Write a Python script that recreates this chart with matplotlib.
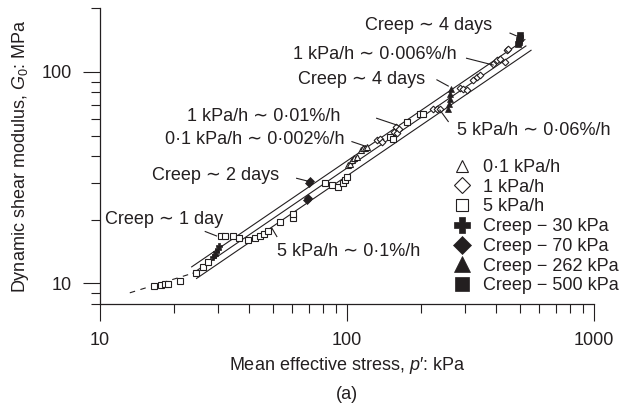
import matplotlib
matplotlib.use('Agg')
import matplotlib.pyplot as plt
from matplotlib.ticker import LogLocator, FuncFormatter, NullFormatter

plt.rcParams['font.family'] = ['Liberation Sans', 'DejaVu Sans']
plt.rcParams['mathtext.fontset'] = 'custom'
plt.rcParams['mathtext.rm'] = 'Liberation Sans'
plt.rcParams['mathtext.it'] = 'Liberation Sans:italic'

ink = '#231f20'

# ==================== data ====================
# 0.1 kPa/h (open triangles)
p_01 = [101, 103, 105, 107, 110, 114, 116, 118, 121]
g_01 = [36.2, 36.9, 38.3, 39.0, 39.7, 42.7, 43.5, 43.8, 44.2]

# 1 kPa/h (open diamonds)
p_1 = [132, 136, 138, 155, 158, 160, 162, 223, 231, 238, 287, 295, 306,
       324, 336, 346, 390, 405, 416, 436, 445, 450]
g_1 = [47.6, 48.0, 46.6, 52.0, 55.0, 51.3, 54.0, 67.1, 67.1, 67.1, 84.4,
       83.5, 82.6, 92.1, 94.7, 96.5, 109.6, 113.6, 115.7, 111.5, 126.6, 129.0]

# 5 kPa/h (open squares)
p_5 = [16.5, 17.7, 18.3, 18.8, 21.1, 24.5, 26.1, 27.4, 30.9, 32.1, 34.6,
       36.5, 39.7, 42.4, 44.4, 46.1, 47.9, 53.6, 60.4, 60.4, 81.5, 87.0,
       91.9, 96.3, 98.1, 100, 149, 154, 175, 197, 203]
g_5 = [9.74, 9.82, 9.89, 9.96, 10.29, 11.15, 11.9, 12.65, 16.73, 16.73,
       16.73, 16.46, 16.02, 16.46, 16.73, 17.1, 17.77, 19.42, 20.42, 21.26,
       29.8, 29.1, 28.6, 29.8, 30.8, 31.8, 49.3, 48.4, 58.0, 63.6, 63.6]

# creep stages (filled symbols)
p_c30 = [28.7, 29.2, 29.6, 30.0, 30.2]
g_c30 = [13.3, 13.7, 14.1, 14.5, 15.0]
p_c70 = [68.9, 69.4, 70.2, 70.6]
g_c70 = [24.8, 25.3, 29.8, 30.4]
p_c262 = [256, 259, 261, 262, 263]
g_c262 = [66.5, 70.9, 74.5, 78.5, 83.5]
p_c500 = [492, 496, 498, 500, 502]
g_c500 = [135, 138, 141, 145, 149]

# trend lines (end points)
p_upper = [23.5, 525]
g_upper = [11.98, 142.2]
p_middle = [23.8, 530]
g_middle = [11.19, 132.7]
p_lower = [24.6, 556]
g_lower = [10.56, 126.6]
p_dash = [13.2, 23.8]
g_dash = [9.03, 11.19]

# annotations: text, text position (axes fraction), leader line (axes fraction)
notes = [
    ('Creep ∼ 4 days', (0.536, 0.943), (0.830, 0.916), (0.848, 0.903)),
    ('1 kPa/h ∼ 0·006%/h', (0.391, 0.842), (0.742, 0.831), (0.796, 0.808)),
    ('Creep ∼ 4 days', (0.401, 0.760), (0.682, 0.758), (0.705, 0.737)),
    ('1 kPa/h ∼ 0·01%/h', (0.176, 0.633), (0.560, 0.628), (0.601, 0.605)),
    ('0·1 kPa/h ∼ 0·002%/h', (0.132, 0.555), (0.510, 0.549), (0.540, 0.532)),
    ('Creep ∼ 2 days', (0.105, 0.433), (0.398, 0.425), (0.424, 0.414)),
    ('Creep ∼ 1 day', (0.010, 0.284), (0.213, 0.245), (0.236, 0.230)),
    ('5 kPa/h ∼ 0·06%/h', (0.722, 0.588), (0.705, 0.617), (0.688, 0.656)),
    ('5 kPa/h ∼ 0·1%/h', (0.358, 0.177), (0.358, 0.228), (0.348, 0.256)),
]

fs = 13

fig = plt.figure(figsize=(6.37, 4.08), dpi=100)
ax = fig.add_axes([0.157, 0.255, 0.7755, 0.7247])

for px, gy in [(p_upper, g_upper), (p_middle, g_middle), (p_lower, g_lower)]:
    ax.plot(px, gy, color=ink, lw=0.8)
ax.plot(p_dash, g_dash, color=ink, lw=0.8, dashes=(5, 5))

open_kw = dict(ls='none', mfc='white', mec=ink, mew=0.8, ms=3.8)
filled_kw = dict(ls='none', mfc=ink, mec=ink, mew=0.5)
ax.plot(p_01, g_01, marker='^', label='0·1 kPa/h', **open_kw)
ax.plot(p_1, g_1, marker='D', label='1 kPa/h', **dict(open_kw, ms=3.4))
ax.plot(p_5, g_5, marker='s', label='5 kPa/h', **open_kw)
ax.plot(p_c30, g_c30, marker='P', ms=5, label='Creep − 30 kPa', **filled_kw)
ax.plot(p_c70, g_c70, marker='D', ms=4.2, label='Creep − 70 kPa', **filled_kw)
ax.plot(p_c262, g_c262, marker='^', ms=4.8, label='Creep − 262 kPa', **filled_kw)
ax.plot(p_c500, g_c500, marker='s', ms=4.5, label='Creep − 500 kPa', **filled_kw)

for txt, pos, a, b in notes:
    ax.text(pos[0], pos[1], txt, transform=ax.transAxes, fontsize=fs,
            color=ink, ha='left', va='center')
    ax.plot([a[0], b[0]], [a[1], b[1]], transform=ax.transAxes,
            color=ink, lw=0.8, clip_on=False)

ax.set_xscale('log')
ax.set_yscale('log')
ax.set_xlim(10, 1000)
ax.set_ylim(8, 200)

for axis in (ax.xaxis, ax.yaxis):
    axis.set_major_locator(LogLocator(base=10))
    axis.set_minor_locator(LogLocator(base=10, subs=range(2, 10)))
    axis.set_major_formatter(FuncFormatter(lambda v, pos: f'{v:g}'))
    axis.set_minor_formatter(NullFormatter())

ax.tick_params(which='major', direction='out', length=12, width=0.8,
               labelsize=fs, colors=ink, pad=8)
ax.tick_params(which='minor', direction='out', length=6.5, width=0.8, colors=ink)

for side in ('top', 'right'):
    ax.spines[side].set_visible(False)
for side in ('left', 'bottom'):
    ax.spines[side].set_color(ink)
    ax.spines[side].set_linewidth(0.9)

ax.set_xlabel('Mean effective stress, $p$′: kPa', fontsize=fs, color=ink)
ax.set_ylabel('Dynamic shear modulus, $G_0$: MPa', fontsize=fs, color=ink)
ax.xaxis.set_label_coords(0.5, -0.172)
ax.yaxis.set_label_coords(-0.14, 0.5)

leg = ax.legend(loc='upper left', bbox_to_anchor=(0.715, 0.49), frameon=False,
                fontsize=fs, markerscale=2.3, handlelength=1.0,
                handletextpad=0.67, labelspacing=0.15, borderpad=0,
                borderaxespad=0)
for t in leg.get_texts():
    t.set_color(ink)

fig.text(0.545, 0.034, '(a)', fontsize=fs, color=ink, ha='center', va='center')

fig.savefig('out.png', dpi=100)
